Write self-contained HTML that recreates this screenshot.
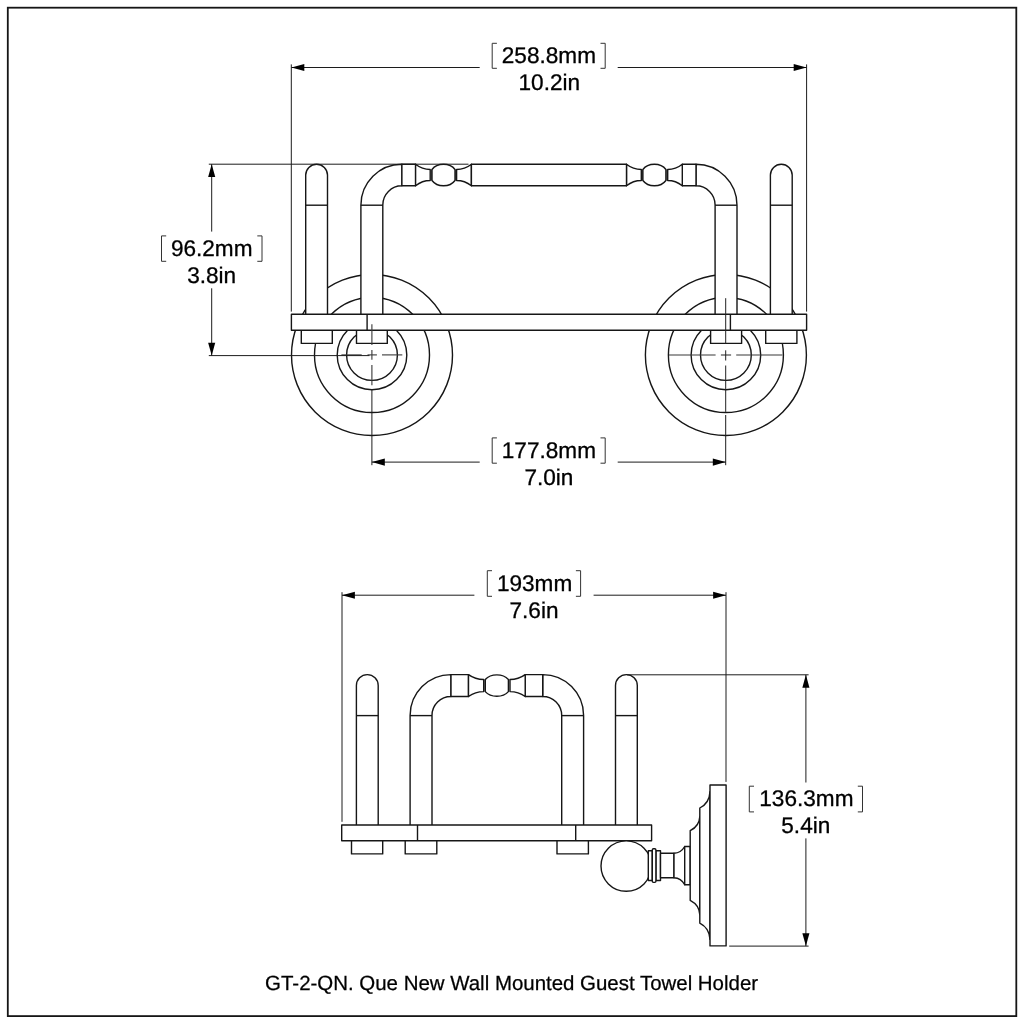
<!DOCTYPE html>
<html><head><meta charset="utf-8"><title>GT-2-QN</title>
<style>
html,body{margin:0;padding:0;background:#fff;}
body{width:1024px;height:1024px;overflow:hidden;font-family:"Liberation Sans",sans-serif;}
svg{display:block;will-change:transform;}
.m{stroke:#161616;stroke-width:1.4;fill:none;}
.mf{stroke:#161616;stroke-width:1.4;fill:#fff;stroke-linejoin:round;}
.mc{stroke:#161616;stroke-width:1.4;fill:none;}
.c{stroke:#383838;stroke-width:1.1;fill:none;}
.c2{stroke:#222;stroke-width:1;fill:none;}
.d{stroke:#1c1c1c;stroke-width:1;fill:none;}
.a{fill:#000;stroke:none;}
.b{stroke:#333;stroke-width:1;fill:none;}
.t{font-family:"Liberation Sans",sans-serif;font-size:22.6px;fill:#000;stroke:#000;stroke-width:0.3;text-anchor:middle;text-rendering:geometricPrecision;}
.cap{font-family:"Liberation Sans",sans-serif;font-size:20.44px;fill:#000;stroke:#000;stroke-width:0.25;text-anchor:middle;text-rendering:geometricPrecision;}
.frame{stroke:#161616;stroke-width:1.8;fill:none;}
</style></head>
<body>
<svg width="1024" height="1024" viewBox="0 0 1024 1024">
<rect x="0" y="0" width="1024" height="1024" fill="#fff"/>
<rect class="frame" x="7.8" y="7.7" width="1008.5" height="1008.4"/>
<circle class="mc" cx="372.0" cy="355.0" r="80.5"/>
<circle class="mc" cx="372.0" cy="355.0" r="57.5"/>
<circle class="mc" cx="372.0" cy="355.0" r="34.8"/>
<circle class="mc" cx="372.0" cy="355.0" r="25.4"/>
<circle class="mc" cx="725.9" cy="355.0" r="80.5"/>
<circle class="mc" cx="725.9" cy="355.0" r="57.5"/>
<circle class="mc" cx="725.9" cy="355.0" r="34.8"/>
<circle class="mc" cx="725.9" cy="355.0" r="25.4"/>
<path class="mf" d="M305.7,314.3 V175.1 A10.9,10.9 0 0 1 327.5,175.1 V314.3"/>
<line class="m" x1="305.7" y1="205.2" x2="327.5" y2="205.2"/>
<path class="mf" d="M360.9,314.3 V205.2 A41.0,41.0 0 0 1 401.9,164.2 V185.8 A19.1,19.1 0 0 0 382.8,204.9 V314.3"/>
<line class="m" x1="360.9" y1="205.2" x2="382.8" y2="205.2"/>
<path class="mf" d="M401.9,164.2 H415.6 V185.8 H401.9 Z"/>
<path class="mf" d="M415.6,164.2 Q422.17,169.5 430.2,169.5 V180.5 Q422.17,180.5 415.6,185.8 Z"/>
<line class="m" x1="432.0" y1="169.5" x2="432.0" y2="180.5"/>
<path class="mf" d="M792.2,314.3 V175.1 A10.9,10.9 0 0 0 770.4,175.1 V314.3"/>
<line class="m" x1="792.2" y1="205.2" x2="770.4" y2="205.2"/>
<path class="mf" d="M737.0,314.3 V205.2 A41.0,41.0 0 0 0 696.0,164.2 V185.8 A19.1,19.1 0 0 1 715.1,204.9 V314.3"/>
<line class="m" x1="737.0" y1="205.2" x2="715.1" y2="205.2"/>
<path class="mf" d="M696.0,164.2 H682.3 V185.8 H696.0 Z"/>
<path class="mf" d="M682.3,164.2 Q675.73,169.5 667.7,169.5 V180.5 Q675.73,180.5 682.3,185.8 Z"/>
<line class="m" x1="665.9" y1="169.5" x2="665.9" y2="180.5"/>
<path class="mf" d="M471.4,164.2 Q464.74,169.5 456.6,169.5 V180.5 Q464.74,180.5 471.4,185.8 Z"/>
<line class="m" x1="455.0" y1="169.5" x2="455.0" y2="180.5"/>
<path class="mf" d="M626.5,164.2 Q633.16,169.5 641.3,169.5 V180.5 Q633.16,180.5 626.5,185.8 Z"/>
<line class="m" x1="642.9" y1="169.5" x2="642.9" y2="180.5"/>
<path class="mf" d="M432.0,169.5 A13.3,10.5 0 0 1 455.0,169.5 V180.5 A13.3,10.5 0 0 1 432.0,180.5 Z"/>
<path class="mf" d="M642.9,169.5 A13.3,10.5 0 0 1 665.9,169.5 V180.5 A13.3,10.5 0 0 1 642.9,180.5 Z"/>
<rect class="mf" x="471.4" y="164.2" width="155.1" height="21.6"/>
<path class="mf" d="M301.3,330.2 V343.4 H332.3 V330.2"/>
<path class="mf" d="M356.5,330.2 V343.4 H387.3 V330.2"/>
<path class="mf" d="M710.6,330.2 V343.4 H741.6 V330.2"/>
<path class="mf" d="M765.7,330.2 V343.4 H796.9 V330.2"/>
<rect class="mf" x="291.4" y="314.3" width="515.2" height="15.9"/>
<line class="m" x1="367.1" y1="314.3" x2="367.1" y2="330.2"/>
<line class="m" x1="730.4" y1="314.3" x2="730.4" y2="330.2"/>
<line class="c" x1="341.4" y1="354.9" x2="361.7" y2="354.9"/>
<line class="c" x1="367.5" y1="354.9" x2="376.9" y2="354.9"/>
<line class="c" x1="382" y1="354.9" x2="402.3" y2="354.9"/>
<line class="c" x1="371.9" y1="324.3" x2="371.9" y2="345"/>
<line class="c" x1="371.9" y1="350" x2="371.9" y2="359.8"/>
<line class="c" x1="371.9" y1="364.9" x2="371.9" y2="385.2"/>
<line class="c" x1="668.9" y1="355" x2="715.6" y2="355"/>
<line class="c" x1="720.9" y1="355" x2="731.1" y2="355"/>
<line class="c" x1="736.2" y1="355" x2="782.5" y2="355"/>
<line class="c2" x1="725.7" y1="298.2" x2="725.7" y2="343.8"/>
<line class="c2" x1="725.7" y1="350.3" x2="725.7" y2="360.5"/>
<line class="c2" x1="725.7" y1="365.5" x2="725.7" y2="411.9"/>
<line class="d" x1="291.3" y1="64.4" x2="291.3" y2="311.6"/>
<line class="d" x1="806.6" y1="64.4" x2="806.6" y2="311.6"/>
<line class="d" x1="291.4" y1="67.5" x2="479.7" y2="67.5"/>
<line class="d" x1="617.7" y1="67.5" x2="806.6" y2="67.5"/>
<polygon class="a" points="291.4,67.5 304.29999999999995,63.95 304.29999999999995,71.05"/>
<polygon class="a" points="806.6,67.5 793.7,63.95 793.7,71.05"/>
<line class="d" x1="208.8" y1="164.2" x2="468.5" y2="164.2"/>
<line class="d" x1="208.8" y1="355.6" x2="369.5" y2="355.6"/>
<line class="d" x1="211.7" y1="164.2" x2="211.7" y2="231.6"/>
<line class="d" x1="211.7" y1="288.3" x2="211.7" y2="355.6"/>
<polygon class="a" points="211.7,164.2 208.14999999999998,177.1 215.25,177.1"/>
<polygon class="a" points="211.7,355.6 208.14999999999998,342.70000000000005 215.25,342.70000000000005"/>
<line class="d" x1="371.9" y1="389.1" x2="371.9" y2="465.2"/>
<line class="d" x1="725.7" y1="415" x2="725.7" y2="465.2"/>
<line class="d" x1="371.9" y1="462.1" x2="479.7" y2="462.1"/>
<line class="d" x1="617.7" y1="462.1" x2="725.7" y2="462.1"/>
<polygon class="a" points="371.9,462.1 384.79999999999995,458.55 384.79999999999995,465.65000000000003"/>
<polygon class="a" points="725.7,462.1 712.8000000000001,458.55 712.8000000000001,465.65000000000003"/>
<path class="mf" d="M356.4,825.0 V685.5 A10.9,10.9 0 0 1 378.2,685.5 V825.0"/>
<line class="m" x1="356.4" y1="715.6" x2="378.2" y2="715.6"/>
<path class="mf" d="M410.1,825.0 V715.5 A40.9,40.9 0 0 1 451.0,674.6 V696.5 A19.0,19.0 0 0 0 432.0,715.5 V825.0"/>
<line class="m" x1="410.1" y1="715.6" x2="432.0" y2="715.6"/>
<path class="mf" d="M451.0,674.6 H468.5 V696.5 H451.0 Z"/>
<path class="mf" d="M468.5,674.6 Q475.34,679.5 483.7,679.5 V691.6 Q475.34,691.6 468.5,696.5 Z"/>
<line class="m" x1="485.3" y1="679.5" x2="485.3" y2="691.6"/>
<path class="mf" d="M637.3,825.0 V685.5 A10.9,10.9 0 0 0 615.5,685.5 V825.0"/>
<line class="m" x1="637.3" y1="715.6" x2="615.5" y2="715.6"/>
<path class="mf" d="M583.6,825.0 V715.5 A40.9,40.9 0 0 0 542.7,674.6 V696.5 A19.0,19.0 0 0 1 561.7,715.5 V825.0"/>
<line class="m" x1="583.6" y1="715.6" x2="561.7" y2="715.6"/>
<path class="mf" d="M542.7,674.6 H525.2 V696.5 H542.7 Z"/>
<path class="mf" d="M525.2,674.6 Q518.36,679.5 510.0,679.5 V691.6 Q518.36,691.6 525.2,696.5 Z"/>
<line class="m" x1="508.4" y1="679.5" x2="508.4" y2="691.6"/>
<path class="mf" d="M485.3,679.5 A14.0,10.65 0 0 1 508.4,679.5 V691.6 A14.0,10.65 0 0 1 485.3,691.6 Z"/>
<path class="mf" d="M351.5,840.7 V853.9 H382.7 V840.7"/>
<path class="mf" d="M405.2,840.7 V853.9 H436.8 V840.7"/>
<path class="mf" d="M557.0,840.7 V853.9 H588.4 V840.7"/>
<rect class="mf" x="341.7" y="825.0" width="309.9" height="15.7"/>
<line class="m" x1="417.5" y1="825.0" x2="417.5" y2="840.7"/>
<line class="m" x1="575.7" y1="825.0" x2="575.7" y2="840.7"/>
<circle class="mf" cx="626.2" cy="866.1" r="25.2"/>
<rect class="mf" x="648.3" y="850.7" width="4.0" height="29.8"/>
<rect class="mf" x="655.9" y="850.7" width="4.6" height="29.8"/>
<path class="mf" d="M652.3,849.9 Q652.3,848.8 653.4,848.8 H654.8 Q655.9,848.8 655.9,849.9 V881.3 Q655.9,882.4 654.8,882.4 H653.4 Q652.3,882.4 652.3,881.3 Z"/>
<rect class="mf" x="660.5" y="853.3" width="13.5" height="24.5"/>
<path class="mf" d="M674.0,853.3 Q681,853 684.7,846.5 V884.7 Q681,878.2 674.0,877.8 Z"/>
<rect class="mf" x="684.7" y="846.5" width="5.5" height="38.2"/>
<path class="mf" d="M690.2,830.7 Q699.4,826 699.8,816.6 V914.6 Q699.4,905.2 690.2,900.4 Z"/>
<path class="mf" d="M699.8,808 Q709.5,803 710,791.6 V939.4 Q709.5,928.2 699.8,923.2 Z"/>
<rect class="mf" x="710.0" y="785.0" width="16.1" height="160.9"/>
<line class="d" x1="342" y1="592.2" x2="342" y2="821.8"/>
<line class="d" x1="726" y1="592.2" x2="726" y2="781.9"/>
<line class="d" x1="342" y1="595.2" x2="474.4" y2="595.2"/>
<line class="d" x1="593.6" y1="595.2" x2="726" y2="595.2"/>
<polygon class="a" points="342,595.2 354.9,591.6500000000001 354.9,598.75"/>
<polygon class="a" points="726,595.2 713.1,591.6500000000001 713.1,598.75"/>
<line class="d" x1="627" y1="674.8" x2="808.6" y2="674.8"/>
<line class="d" x1="729.2" y1="946.1" x2="808.6" y2="946.1"/>
<line class="d" x1="805.9" y1="674.8" x2="805.9" y2="782.5"/>
<line class="d" x1="805.9" y1="838.4" x2="805.9" y2="946.1"/>
<polygon class="a" points="805.9,674.8 802.35,687.6999999999999 809.4499999999999,687.6999999999999"/>
<polygon class="a" points="805.9,946.1 802.35,933.2 809.4499999999999,933.2"/>
<path class="b" d="M496.9,43.3 H492.2 V68.3 H496.9"/>
<path class="b" d="M600.5,43.3 H605.2 V68.3 H600.5"/>
<path class="b" d="M496.9,437.9 H492.2 V463.2 H496.9"/>
<path class="b" d="M600.5,437.9 H605.2 V463.2 H600.5"/>
<path class="b" d="M166.2,235.9 H161.5 V261.3 H166.2"/>
<path class="b" d="M257.3,235.9 H262.0 V261.3 H257.3"/>
<path class="b" d="M492.0,570.7 H487.3 V596.3 H492.0"/>
<path class="b" d="M575.9,570.7 H580.6 V596.3 H575.9"/>
<path class="b" d="M754.0,786.2 H749.3 V811.9 H754.0"/>
<path class="b" d="M857.8,786.2 H862.5 V811.9 H857.8"/>
<text class="t" x="548.9" y="63">258.8mm</text>
<text class="t" x="549.3" y="90">10.2in</text>
<text class="t" x="548.9" y="458">177.8mm</text>
<text class="t" x="548.9" y="485">7.0in</text>
<text class="t" x="211.7" y="256">96.2mm</text>
<text class="t" x="211.7" y="283">3.8in</text>
<text class="t" x="534.6" y="591">193mm</text>
<text class="t" x="534" y="618">7.6in</text>
<text class="t" x="806.4" y="806">136.3mm</text>
<text class="t" x="805.8" y="833">5.4in</text>
<text class="cap" x="511.6" y="990">GT-2-QN. Que New Wall Mounted Guest Towel Holder</text>
</svg>
</body></html>
